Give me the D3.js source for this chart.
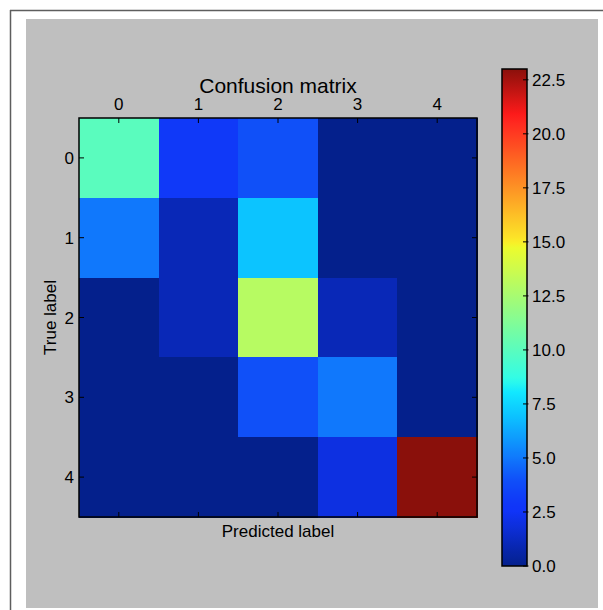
<!DOCTYPE html>
<html>
<head>
<meta charset="utf-8">
<script src="https://cdn.jsdelivr.net/npm/d3@7"></script>
<style>
  html, body { margin: 0; padding: 0; background: #ffffff; }
  svg { display: block; }
  text { font-family: "Liberation Sans", Arial, Helvetica, sans-serif; fill: #000; }
</style>
</head>
<body>
<script>
// ---- data ----
const predictedLabels = ["0", "1", "2", "3", "4"];
const trueLabels = ["0", "1", "2", "3", "4"];
const row0 = [10, 3, 4, 0, 0];
const row1 = [5, 1, 7, 0, 0];
const row2 = [0, 1, 13, 1, 0];
const row3 = [0, 0, 4, 5, 0];
const row4 = [0, 0, 0, 2, 23];
const matrix = [row0, row1, row2, row3, row4];
const colorbarTicks = [0, 2.5, 5, 7.5, 10, 12.5, 15, 17.5, 20, 22.5];
const title = "Confusion matrix";
const xTitle = "Predicted label";
const yTitle = "True label";

// jet colormap as it appears in the reference (anchor stops on 0..1)
const jetStops = [0, 0.11, 0.125, 0.174, 0.217, 0.304, 0.34, 0.35, 0.375, 0.64, 0.65, 0.66, 0.89, 0.91, 1];
const jetColors = ["#04208c", "#1034f8", "#1036f8", "#1050f8", "#1078fc", "#0cc4ff", "#10e0ff", "#12e8ff",
                   "#30fce8", "#ecfb2e", "#f8f028", "#fce428", "#ff2a20", "#fc1a1a", "#8a100b"];

const W = 603, H = 610;
const svg = d3.select("body").append("svg").attr("width", W).attr("height", H);

// outer frame + gray figure background
svg.append("rect").attr("x", 26).attr("y", 19).attr("width", 572).attr("height", 589).attr("fill", "#bfbfbf");
svg.append("line").attr("x1", 10.5).attr("x2", 10.5).attr("y1", 10).attr("y2", H).attr("stroke", "#5e5e5e").attr("stroke-width", 1.5);
svg.append("line").attr("x1", 10).attr("x2", W).attr("y1", 10.5).attr("y2", 10.5).attr("stroke", "#5e5e5e").attr("stroke-width", 1.5);

const plot = { left: 79, top: 118, right: 477, bottom: 517 };
const vmax = d3.max(matrix.flat());
const tScale = d3.scaleLinear().domain([0, vmax]).range([0, 1]);
const jet = d3.scaleLinear().domain(jetStops).range(jetColors).interpolate(d3.interpolateRgb).clamp(true);
const color = v => jet(tScale(v));

const x = d3.scaleBand().domain(predictedLabels).range([plot.left, plot.right]).padding(0);
const y = d3.scaleBand().domain(trueLabels).range([plot.top, plot.bottom]).padding(0);

const cells = [];
matrix.forEach((row, i) => row.forEach((v, j) => cells.push({ r: trueLabels[i], c: predictedLabels[j], v })));

svg.append("g").attr("shape-rendering", "crispEdges")
  .selectAll("rect").data(cells).join("rect")
  .attr("x", d => x(d.c)).attr("y", d => y(d.r))
  .attr("width", x.bandwidth() + 0.5).attr("height", y.bandwidth() + 0.5)
  .attr("fill", d => color(d.v));

// frame
svg.append("rect").attr("x", plot.left).attr("y", plot.top)
  .attr("width", plot.right - plot.left).attr("height", plot.bottom - plot.top)
  .attr("fill", "none").attr("stroke", "#000").attr("stroke-width", 1.5);

// ticks (inward)
const tk = 5;
const tg = svg.append("g").attr("stroke", "#000").attr("stroke-width", 1);
predictedLabels.forEach(l => {
  const cx = x(l) + x.bandwidth() / 2;
  tg.append("line").attr("x1", cx).attr("x2", cx).attr("y1", plot.top).attr("y2", plot.top + tk);
  tg.append("line").attr("x1", cx).attr("x2", cx).attr("y1", plot.bottom).attr("y2", plot.bottom - tk);
});
trueLabels.forEach(l => {
  const cy = y(l) + y.bandwidth() / 2;
  tg.append("line").attr("y1", cy).attr("y2", cy).attr("x1", plot.left).attr("x2", plot.left + tk);
  tg.append("line").attr("y1", cy).attr("y2", cy).attr("x1", plot.right).attr("x2", plot.right - tk);
});

// tick labels
const fs = 17;
svg.append("g").selectAll("text").data(predictedLabels).join("text")
  .attr("x", d => x(d) + x.bandwidth() / 2).attr("y", 110)
  .attr("text-anchor", "middle").attr("font-size", fs).text(d => d);
svg.append("g").selectAll("text").data(trueLabels).join("text")
  .attr("x", 74).attr("y", d => y(d) + y.bandwidth() / 2).attr("dy", "0.36em")
  .attr("text-anchor", "end").attr("font-size", fs).text(d => d);

// titles
const midX = (plot.left + plot.right) / 2;
svg.append("text").attr("x", midX).attr("y", 92.5).attr("text-anchor", "middle").attr("font-size", 21).text(title);
svg.append("text").attr("x", midX).attr("y", 537).attr("text-anchor", "middle").attr("font-size", fs).text(xTitle);
svg.append("text").attr("transform", `translate(56,${(plot.top + plot.bottom) / 2}) rotate(-90)`)
  .attr("text-anchor", "middle").attr("font-size", fs).text(yTitle);

// colorbar
const cb = { left: 502, right: 527, top: 69, bottom: 566 };
const cScale = d3.scaleLinear().domain([0, vmax]).range([cb.bottom, cb.top]);
const defs = svg.append("defs");
const grad = defs.append("linearGradient").attr("id", "jetgrad")
  .attr("x1", 0).attr("y1", 1).attr("x2", 0).attr("y2", 0);
d3.range(0, 1.0001, 0.01).forEach(t => {
  grad.append("stop").attr("offset", t).attr("stop-color", jet(t));
});
svg.append("rect").attr("x", cb.left).attr("y", cb.top)
  .attr("width", cb.right - cb.left).attr("height", cb.bottom - cb.top)
  .attr("fill", "url(#jetgrad)").attr("stroke", "#000").attr("stroke-width", 1.5);
const cg = svg.append("g");
colorbarTicks.forEach(v => {
  const ty = cScale(v);
  cg.append("line").attr("x1", cb.right - 4).attr("x2", cb.right + 1.5).attr("y1", ty).attr("y2", ty)
    .attr("stroke", "#000").attr("stroke-width", 1);
  cg.append("text").attr("x", 532).attr("y", ty).attr("dy", "0.36em")
    .attr("font-size", fs).text(d3.format(".1f")(v));
});
</script>
</body>
</html>
